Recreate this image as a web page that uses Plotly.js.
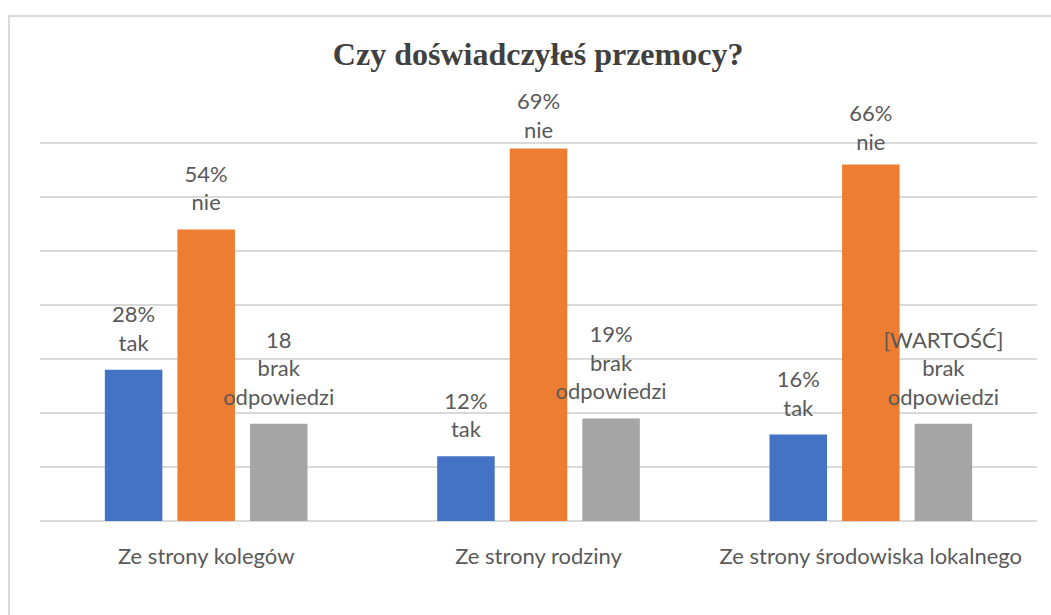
<!DOCTYPE html>
<html lang="pl">
<head>
  <meta charset="UTF-8">
  <title>Czy doświadczyłeś przemocy?</title>
  <script src="https://cdn.plot.ly/plotly-3.0.1.min.js"></script>
  <style>
    body {
      margin: 0;
      background: #ffffff;
      overflow: hidden;
    }

    #chart {
      width: 1051px;
      height: 615px;
    }

    /* light frame round the chart, cut off at right and bottom like the source */
    #frame {
      position: absolute;
      left: 8px;
      top: 15px;
      width: 1100px;
      height: 700px;
      border: 2px solid #d9d9d9;
      pointer-events: none;
    }
  </style>
</head>
<body>
  <div id="chart"></div>
  <div id="frame"></div>

  <script>
    const categories = ["Ze strony kolegów", "Ze strony rodziny", "Ze strony środowiska lokalnego"];

    const takValues = [28, 12, 16];
    const nieValues = [54, 69, 66];
    const brakValues = [18, 19, 18];

    const takLabels = ["28%<br>tak", "12%<br>tak", "16%<br>tak"];
    const nieLabels = ["54%<br>nie", "69%<br>nie", "66%<br>nie"];
    const brakLabels = ["18<br>brak<br>odpowiedzi", "19%<br>brak<br>odpowiedzi", "[WARTOŚĆ]<br>brak<br>odpowiedzi"];

    const textFont = { family: "Lato, sans-serif", size: 22, color: "#595959" };

    function barTrace(name, values, color) {
      return {
        type: "bar",
        name: name,
        x: categories,
        y: values,
        hoverinfo: "none",
        marker: { color: color }
      };
    }

    // gap between bar top and its label; shrinks for tall bars so the
    // label stays under the top of the chart, like Excel does
    function labelGap(v) {
      return Math.max(3, Math.min(20, (72 - v) * 2.2));
    }

    // data labels: grouped scatter text sitting on the bar tops
    // (an invisible marker sets the spacing above each bar)
    function labelTrace(name, values, labels) {
      return {
        type: "scatter",
        mode: "markers+text",
        name: name,
        x: categories,
        y: values,
        text: labels,
        textposition: "top center",
        textfont: textFont,
        cliponaxis: false,
        hoverinfo: "none",
        marker: { size: values.map(labelGap), opacity: 0 }
      };
    }

    const data = [
      barTrace("tak", takValues, "#4472c4"),
      barTrace("nie", nieValues, "#ed7d31"),
      barTrace("brak odpowiedzi", brakValues, "#a5a5a5"),
      labelTrace("tak", takValues, takLabels),
      labelTrace("nie", nieValues, nieLabels),
      labelTrace("brak odpowiedzi", brakValues, brakLabels)
    ];

    const layout = {
      width: 1051,
      height: 615,
      margin: { l: 40, r: 14, t: 89, b: 94 },
      paper_bgcolor: "rgba(0,0,0,0)",
      plot_bgcolor: "rgba(0,0,0,0)",
      showlegend: false,
      barmode: "group",
      bargap: 0.345,
      bargroupgap: 0.207,
      scattermode: "group",
      scattergap: 0.345,
      title: {
        text: "<b>Czy doświadczyłeś przemocy?</b>",
        font: { family: "Liberation Serif, Times New Roman, serif", size: 32, color: "#404040" },
        x: 0.512,
        xanchor: "center",
        y: 0.912,
        yanchor: "middle"
      },
      xaxis: {
        showgrid: false,
        showline: false,
        ticks: "",
        ticklabelstandoff: 20,
        tickfont: textFont
      },
      yaxis: {
        range: [0, 80],
        dtick: 10,
        showticklabels: false,
        showgrid: true,
        gridcolor: "#d9d9d9",
        gridwidth: 1.5,
        zeroline: true,
        zerolinecolor: "#d9d9d9",
        zerolinewidth: 1.5,
        showline: false
      }
    };

    Plotly.newPlot("chart", data, layout, { staticPlot: true, displayModeBar: false });
  </script>
</body>
</html>
